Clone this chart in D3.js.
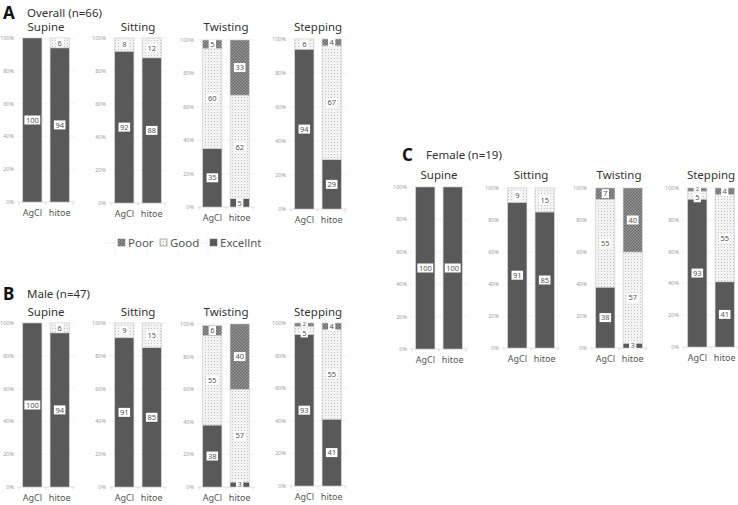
<!DOCTYPE html>
<html>
<head>
<meta charset="utf-8"/>
<script src="https://cdn.jsdelivr.net/npm/d3@7"></script>
<style>
  body { margin: 0; background: #fff; }
  text { font-family: "Noto Sans", "Open Sans", sans-serif; }
</style>
</head>
<body>
<script>
// data
var conditions = ["Supine", "Sitting", "Twisting", "Stepping"];
var electrodes = ["AgCl", "hitoe"];
var yTicks = [0, 20, 40, 60, 80, 100];

// values per condition, [AgCl, hitoe]
var overallExcellent = [[100, 94], [92, 88], [35, 5], [94, 29]];
var overallGood      = [[0, 6], [8, 12], [60, 62], [6, 67]];
var overallPoor      = [[0, 0], [0, 0], [5, 33], [0, 4]];

var maleExcellent = [[100, 94], [91, 85], [38, 3], [93, 41]];
var maleGood      = [[0, 6], [9, 15], [55, 57], [5, 55]];
var malePoor      = [[0, 0], [0, 0], [6, 40], [2, 4]];

var femaleExcellent = [[100, 100], [91, 85], [38, 3], [93, 41]];
var femaleGood      = [[0, 0], [9, 15], [55, 57], [5, 55]];
var femalePoor      = [[0, 0], [0, 0], [7, 40], [2, 4]];

var levels = ["Excellnt", "Good", "Poor"];
var legendOrder = ["Poor", "Good", "Excellnt"];

var w = 738, h = 505;
var svg = d3.select("body").append("svg")
    .attr("width", w)
    .attr("height", h);

// patterns
var defs = svg.append("defs");
var pp = defs.append("pattern").attr("id", "poorPat")
    .attr("width", 3).attr("height", 3).attr("patternUnits", "userSpaceOnUse");
pp.append("rect").attr("width", 3).attr("height", 3).attr("fill", "#979797");
pp.append("rect").attr("width", 1.5).attr("height", 1.5).attr("fill", "#6a6a6a");
pp.append("rect").attr("x", 1.5).attr("y", 1.5).attr("width", 1.5).attr("height", 1.5).attr("fill", "#6a6a6a");

var gp = defs.append("pattern").attr("id", "goodPat")
    .attr("width", 3).attr("height", 3).attr("patternUnits", "userSpaceOnUse");
gp.append("rect").attr("width", 3).attr("height", 3).attr("fill", "#f3f3f3");
gp.append("rect").attr("x", 1).attr("y", 1).attr("width", 1).attr("height", 1).attr("fill", "#c4c4c4");

var fills = {"Excellnt": "#595959", "Good": "url(#goodPat)", "Poor": "url(#poorPat)"};

var panels = [
  {letter: "A", title: "Overall (n=66)", ex: overallExcellent, gd: overallGood, pr: overallPoor,
   lx: 3, ly: 19, left: 20, tops: [38, 38, 40, 39], bottoms: [202, 203, 207, 209], titleY: 31},
  {letter: "B", title: "Male (n=47)", ex: maleExcellent, gd: maleGood, pr: malePoor,
   lx: 3, ly: 300, left: 20, tops: [323, 323, 324, 323], bottoms: [487, 487, 487, 486], titleY: 316},
  {letter: "C", title: "Female (n=19)", ex: femaleExcellent, gd: femaleGood, pr: femalePoor,
   lx: 402, ly: 161, left: 413, tops: [187, 188, 188, 188], bottoms: [349, 348, 348, 347], titleY: 179}
];
var subOffsets = [0, 92, 180, 272];

panels.forEach(function(p) {
    svg.append("text").attr("x", p.lx).attr("y", p.ly)
        .attr("font-size", 17).attr("font-weight", "bold").attr("fill", "#111")
        .attr("font-family", "Liberation Sans, Arial, sans-serif")
        .text(p.letter);
    svg.append("text").attr("x", p.lx + 24).attr("y", p.ly - 2)
        .attr("font-size", 11.5).attr("fill", "#333")
        .text(p.title);

    conditions.forEach(function(cond, ci) {
        var pl = p.left + subOffsets[ci];
        var g = svg.append("g");
        var x = d3.scaleBand().domain(electrodes)
            .range([pl, pl + 52]).paddingInner(0.3).paddingOuter(0.1);
        var y = d3.scaleLinear().domain([0, 100]).range([p.bottoms[ci], p.tops[ci]]);

        // grid + ticks
        g.selectAll(".grid").data(yTicks).enter().append("line")
            .attr("x1", pl - 3).attr("x2", pl + 55)
            .attr("y1", function(d) { return y(d); })
            .attr("y2", function(d) { return y(d); })
            .attr("stroke", function(d) { return d == 0 ? "#d4d4d4" : "#efefef"; })
            .attr("stroke-width", 0.7);
        g.selectAll(".tl").data(yTicks).enter().append("text")
            .attr("x", pl - 6)
            .attr("y", function(d) { return y(d) + 2; })
            .attr("text-anchor", "end")
            .attr("font-size", 5.5).attr("fill", "#a0a0a0")
            .text(function(d) { return d + "%"; });
        g.selectAll(".xt").data([pl - 1, pl + 26, pl + 53]).enter().append("line")
            .attr("x1", function(d) { return d; }).attr("x2", function(d) { return d; })
            .attr("y1", y(0)).attr("y2", y(0) + 3)
            .attr("stroke", "#d4d4d4").attr("stroke-width", 0.7);

        // title
        g.append("text").attr("x", pl + 26).attr("y", p.titleY)
            .attr("text-anchor", "middle").attr("font-size", 11.5).attr("fill", "#333")
            .text(cond);

        // category labels
        g.selectAll(".cat").data(electrodes).enter().append("text")
            .attr("x", function(d) { return x(d) + x.bandwidth() / 2; })
            .attr("y", y(0) + 14)
            .attr("text-anchor", "middle").attr("font-size", 9).attr("fill", "#555")
            .text(function(d) { return d; });

        // stacks
        var rows = electrodes.map(function(e, ei) {
            return {el: e, "Excellnt": p.ex[ci][ei], "Good": p.gd[ci][ei], "Poor": p.pr[ci][ei]};
        });
        var stack = d3.stack().keys(levels)(rows);
        stack.forEach(function(layer) {
            var segs = layer.map(function(s) {
                return {el: s.data.el, y0: s[0], y1: s[1], v: s.data[layer.key], key: layer.key};
            }).filter(function(s) { return s.v > 0; });
            g.selectAll(null).data(segs).enter().append("rect")
                .attr("x", function(d) { return x(d.el); })
                .attr("width", x.bandwidth())
                .attr("y", function(d) { return y(d.y1); })
                .attr("height", function(d) { return y(d.y0) - y(d.y1); })
                .attr("fill", fills[layer.key])
                .attr("stroke", "#c8c8c8").attr("stroke-width", 0.6);
        });
        // value labels on top of all segments
        stack.forEach(function(layer, li) {
            var segs = layer.map(function(s, si) {
                var above = stack[li + 1] ? stack[li + 1][si] : null;
                var aboveV = above ? above[1] - above[0] : 0;
                return {el: s.data.el, y0: s[0], y1: s[1], v: s.data[layer.key],
                        tinyAbove: aboveV > 0 && aboveV <= 2};
            }).filter(function(s) { return s.v > 0; });
            var lab = g.selectAll(null).data(segs).enter().append("g")
                .attr("transform", function(d) {
                    var dy = d.v <= 2 ? -0.8 : (d.tinyAbove ? 2.6 : 0);
                    return "translate(" + (x(d.el) + x.bandwidth() / 2) + "," +
                        (y((d.y0 + d.y1) / 2) + dy) + ")";
                });
            lab.append("rect")
                .attr("x", function(d) { return -(String(d.v).length * 2.15 + 1.5); })
                .attr("y", function(d) { return d.v <= 2 ? -3 : -4.5; })
                .attr("width", function(d) { return String(d.v).length * 4.3 + 3; })
                .attr("height", function(d) { return d.v <= 2 ? 6 : 9; })
                .attr("fill", "#fff");
            lab.append("text")
                .attr("y", function(d) { return d.v <= 2 ? 2 : 2.7; })
                .attr("text-anchor", "middle")
                .attr("font-size", function(d) { return d.v <= 2 ? 5.5 : 7.5; })
                .attr("fill", "#555")
                .text(function(d) { return d.v; });
        });
    });
});

// legend
var lg = svg.append("g");
[115, 147, 178, 208, 240].forEach(function(vx) {
    lg.append("line").attr("x1", vx).attr("x2", vx).attr("y1", 230).attr("y2", 258)
        .attr("stroke", "#ddd").attr("stroke-width", 0.7).attr("stroke-dasharray", "1,1.5");
});
lg.append("line").attr("x1", 105).attr("x2", 270).attr("y1", 243).attr("y2", 243)
    .attr("stroke", "#ccc").attr("stroke-width", 0.7).attr("stroke-dasharray", "1,1.5");
var legX = d3.scalePoint().domain(legendOrder).range([118, 210]);
legendOrder.forEach(function(k) {
    var lx = legX(k) + (k == "Good" ? -4 : 0);
    lg.append("rect").attr("x", lx - 2).attr("y", 236).attr("width", 11).attr("height", 13).attr("fill", "#fff");
    lg.append("rect").attr("x", lx).attr("y", 239).attr("width", 7).attr("height", 7)
        .attr("fill", fills[k]).attr("stroke", "#777").attr("stroke-width", 0.6);
    var t = lg.append("text").attr("x", lx + 10).attr("y", 247)
        .attr("font-size", 11.5).attr("fill", "#555").text(k);
    var bb = t.node().getBBox();
    lg.insert("rect", "text").attr("x", bb.x).attr("y", bb.y + 1).attr("width", bb.width + 1).attr("height", bb.height - 2).attr("fill", "#fff");
});
</script>
</body>
</html>
